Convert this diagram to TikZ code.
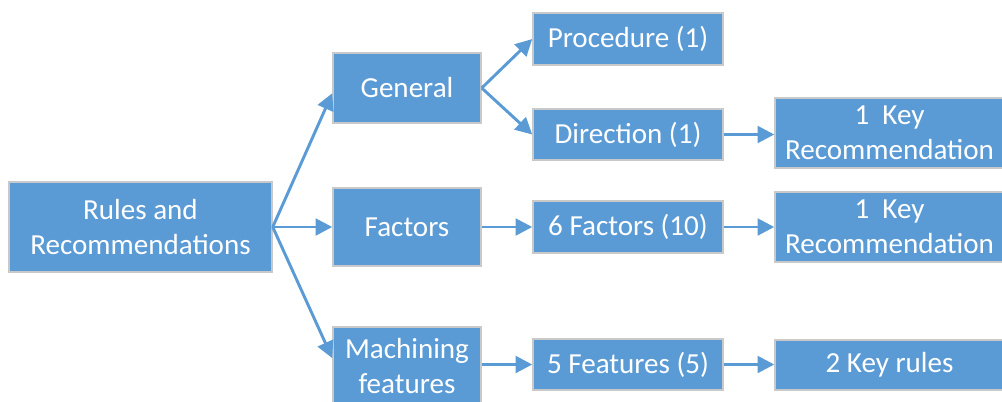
\documentclass[tikz,border=0pt]{standalone}
\usepackage{fontspec}
\setmainfont{Carlito}
\usetikzlibrary{arrows.meta}
\definecolor{boxblue}{HTML}{5B9BD5}
\definecolor{edgegray}{HTML}{C9C9C9}
\tikzset{
  box/.style={draw=edgegray, line width=1.1pt, fill=boxblue, text=white,
    inner sep=0pt, align=center, font=\fontsize{21.8}{26}\selectfont},
  conn/.style={draw=boxblue, line width=2.2pt,
    -{Triangle[length=12.5pt,width=12.5pt]}}
}
\newcommand{\bx}[6]{\node[box, minimum width={(#4-#2)*0.75pt}, minimum height={(#5-#3)*0.75pt}] (#1) at ({(#2+#4)/2},{(#3+#5)/2}) {#6};}
\begin{document}
\begin{tikzpicture}[x=0.75pt,y=-0.75pt]
\useasboundingbox (0,0) rectangle (1002,401);
\bx{rules}{9}{182}{272}{272}{Rules and\\Recommendations}
\bx{gen}{333}{53}{481}{123}{General}
\bx{fac}{333}{188}{481}{266}{Factors}
\bx{mach}{333}{327}{481}{405}{Machining\\features}
\bx{proc}{533}{13}{723}{65}{Procedure (1)}
\bx{dir}{533}{109}{723}{160}{Direction (1)}
\bx{sixf}{533}{201}{723}{253}{6 Factors (10)}
\bx{fivef}{533}{339}{723}{390}{5 Features (5)}
\bx{keyA}{775}{98}{1004}{168}{1\ \ Key\\Recommendation}
\bx{keyB}{775}{192}{1004}{262}{1\ \ Key\\Recommendation}
\bx{keyC}{775}{340}{1004}{390}{2 Key rules}
\draw[conn] (rules.east) -- (gen.184);
\draw[conn] (rules.east) -- (fac.west);
\draw[conn] (rules.east) -- (mach.174);
\draw[conn] (gen.east) -- (proc.west);
\draw[conn] (gen.east) -- (dir.west);
\draw[conn] (dir.east) -- (dir.east -| keyA.west);
\draw[conn] (fac.east) -- (fac.east -| sixf.west);
\draw[conn] (sixf.east) -- (sixf.east -| keyB.west);
\draw[conn] (mach.east |- fivef.west) -- (fivef.west);
\draw[conn] (fivef.east) -- (fivef.east -| keyC.west);
\end{tikzpicture}
\end{document}
